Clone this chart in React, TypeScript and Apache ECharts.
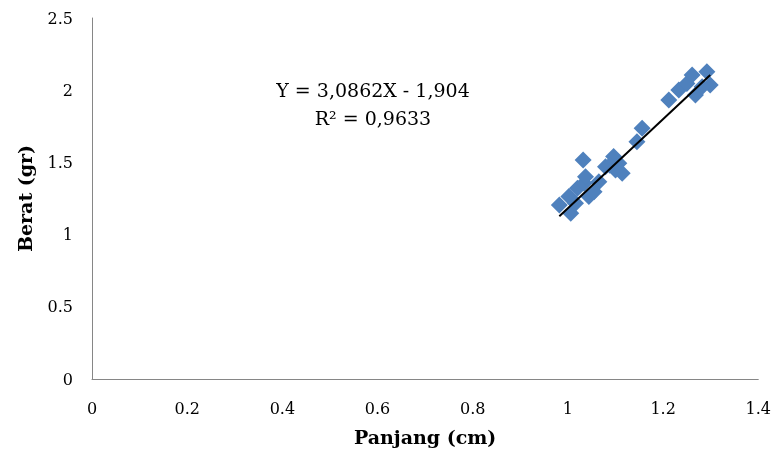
import React, { useEffect, useRef } from "react";
import * as echarts from "echarts";

const panjang = [0.982, 1.006, 1.002, 1.016, 1.020, 1.034, 1.044, 1.055, 1.032, 1.037, 1.065, 1.079, 1.096, 1.107, 1.114, 1.100, 1.088, 1.145, 1.156, 1.212, 1.233, 1.250, 1.261, 1.268, 1.292, 1.299, 1.282];
const berat = [1.205, 1.147, 1.263, 1.217, 1.321, 1.355, 1.263, 1.297, 1.517, 1.401, 1.366, 1.470, 1.540, 1.494, 1.424, 1.447, 1.480, 1.643, 1.736, 1.932, 2.001, 2.047, 2.105, 1.967, 2.128, 2.036, 2.024];
const slope = 3.0862;
const intercept = -1.904;
const trendX = [0.982, 1.299];
const equationText = "Y = 3,0862X - 1,904";
const r2Text = "R² = 0,9633";

const FONT = "DejaVu Serif";

export default function App() {
  const ref = useRef<HTMLDivElement>(null);
  useEffect(() => {
    if (!ref.current) return;
    const chart = echarts.init(ref.current, null, { renderer: "svg" });
    const points = panjang.map((x, i) => [x, berat[i]]);
    const trend = trendX.map((x) => [x, slope * x + intercept]);
    chart.setOption({
      animation: false,
      grid: { left: 92, right: 14, top: 18, bottom: 75 },
      xAxis: {
        type: "value",
        min: 0,
        max: 1.4,
        interval: 0.2,
        name: "Panjang (cm)",
        nameLocation: "middle",
        nameGap: 48,
        nameTextStyle: { fontFamily: FONT, fontWeight: "bold", fontSize: 19, color: "#000" },
        axisLine: { show: true, lineStyle: { color: "#868686", width: 1 } },
        axisTick: { show: false },
        splitLine: { show: false },
        axisLabel: { fontFamily: FONT, fontSize: 16, color: "#000", margin: 21 },
      },
      yAxis: {
        type: "value",
        min: 0,
        max: 2.5,
        interval: 0.5,
        name: "Berat (gr)",
        nameLocation: "middle",
        nameGap: 58,
        nameRotate: 90,
        nameTextStyle: { fontFamily: FONT, fontWeight: "bold", fontSize: 19, color: "#000" },
        axisLine: { show: true, lineStyle: { color: "#868686", width: 1 } },
        axisTick: { show: false },
        splitLine: { show: false },
        axisLabel: { fontFamily: FONT, fontSize: 16, color: "#000", margin: 19 },
      },
      graphic: [
        {
          type: "text",
          x: 373,
          y: 90,
          style: { text: equationText, fontFamily: FONT, fontSize: 19, fill: "#000", textAlign: "center", textVerticalAlign: "middle" },
        },
        {
          type: "text",
          x: 373,
          y: 118,
          style: { text: r2Text, fontFamily: FONT, fontSize: 19, fill: "#000", textAlign: "center", textVerticalAlign: "middle" },
        },
      ],
      series: [
        {
          type: "scatter",
          data: points,
          symbol: "diamond",
          symbolSize: 17,
          itemStyle: { color: "#4F81BD", opacity: 1 },
          z: 2,
        },
        {
          type: "line",
          data: trend,
          symbol: "none",
          lineStyle: { color: "#000", width: 2 },
          z: 3,
        },
      ],
    });
    return () => chart.dispose();
  }, []);
  return <div ref={ref} style={{ position: "fixed", left: 0, top: 0, width: 774, height: 454 }} />;
}
